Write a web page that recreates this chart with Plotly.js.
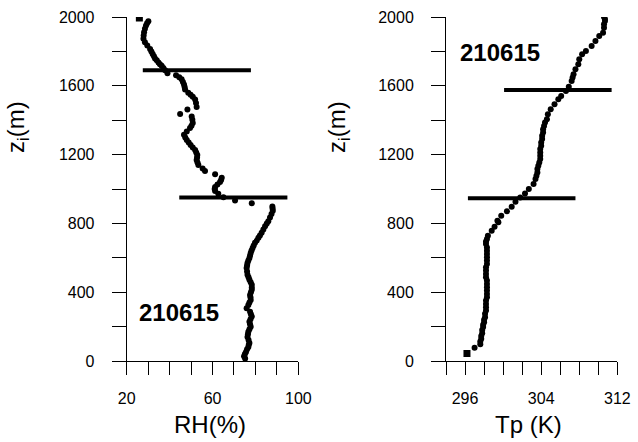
<!DOCTYPE html>
<html>
<head>
<meta charset="utf-8">
<script src="https://cdn.plot.ly/plotly-3.0.1.min.js"></script>
<style>html,body{margin:0;padding:0;background:#fff;}#chart{width:638px;height:442px;}</style>
</head>
<body>
<div id="chart"></div>
<script>
// Left panel: relative humidity profile
const rhHeight = [1975,1963,1951,1932,1912,1893,1873,1853,1834,1814,1800,1785,1772,1759,1748,1736,1726,1716,1703,1691,1673,1661,1650,1638,1622,1608,1593,1579,1559,1548,1536,1520,1500,1477,1462,1436,1422,1403,1383,1368,1354,1334,1315,1300,1285,1270,1256,1241,1227,1212,1197,1183,1168,1154,1139,1119,1105,1086,1066,1053,1041,1026,1011,1000,988,972,952,933,917,898,886,874,855,835,813,800,784,765,745,730,716,700,687,672,657,642,628,613,599,585,570,555,540,520,501,487,472,458,443,428,414,399,384,370,355,340,326,306,287,272,258,243,228,214,199,185,170,155,140,122,105,94,82,68,53,40,27,14];
const rhValue  = [30.1,29.5,29.0,28.5,28.1,27.9,27.8,28.5,29.6,30.9,31.5,32.1,32.7,33.2,34.0,34.8,35.5,36.3,37.1,37.9,39.0,43.0,44.5,45.6,46.2,46.7,47.0,47.2,48.7,49.8,50.8,51.9,52.3,52.6,48.3,44.9,50.3,50.6,50.8,50.2,49.5,48.0,46.7,47.3,48.0,48.9,49.8,50.8,51.9,52.4,52.9,52.8,52.6,53.0,53.4,55.4,56.5,61.2,64.3,64.0,63.5,62.3,61.2,61.0,61.2,62.7,65.1,70.5,78.3,87.9,88.0,88.1,87.5,86.8,86.0,85.3,84.5,83.7,82.9,82.1,81.4,80.6,79.8,79.2,78.7,78.2,77.8,77.5,77.2,76.7,76.3,76.1,75.9,76.1,76.3,76.8,77.2,77.8,78.3,78.3,78.3,77.9,77.5,77.7,77.8,77.2,76.7,75.9,77.5,77.9,78.3,77.7,77.2,77.5,77.8,77.2,76.7,76.5,76.3,76.8,77.2,76.9,76.7,76.1,75.6,75.1,74.7,75.2];
const rhTopHeight = [1994];
const rhTopValue  = [25.9];
// Right panel: potential temperature profile
const tpHeight = [2000,1988,1977,1958,1938,1909,1890,1861,1832,1803,1783,1754,1725,1696,1667,1648,1628,1594,1570,1541,1522,1493,1464,1435,1406,1387,1367,1348,1329,1310,1290,1270,1251,1232,1212,1193,1174,1154,1135,1116,1096,1077,1058,1029,1000,974,951,926,897,870,845,816,806,781,757,728,709,695,680,660,641,622,603,584,564,545,526,506,487,468,448,429,410,390,371,352,332,313,294,275,255,240,226,211,197,180,162,146,129,113,97,77];
const tpValue  = [310.6,310.7,310.7,310.6,310.6,310.5,310.1,309.7,309.3,308.7,308.3,308.0,307.9,307.6,307.4,307.3,307.2,306.9,306.6,306.1,305.8,305.4,305.0,304.7,304.6,304.4,304.3,304.2,304.2,304.1,304.1,304.0,304.0,303.9,303.9,303.9,303.9,303.8,303.7,303.6,303.6,303.5,303.4,303.2,302.7,302.3,301.8,301.3,300.9,300.4,299.8,299.4,299.5,299.1,298.8,298.4,298.3,298.2,298.2,298.3,298.3,298.3,298.3,298.3,298.3,298.2,298.2,298.2,298.2,298.3,298.3,298.3,298.3,298.3,298.3,298.2,298.2,298.2,298.2,298.1,298.1,298.0,298.0,297.9,297.9,297.8,297.8,297.7,297.7,297.6,297.6,297.0];
const tpBottomHeight = [43];
const tpBottomValue  = [296.2];
// Layer boundaries (horizontal bars)
const rhBar1 = {z: 1691, x: [27.5, 77.9]};
const rhBar2 = {z: 951,  x: [44.5, 94.9]};
const tpBar1 = {z: 1575, x: [300.1, 311.4]};
const tpBar2 = {z: 946,  x: [296.3, 307.6]};
// Labels
const caseLabel = "210615";
const rhTitle = "RH(%)";
const tpTitle = "Tp (K)";
const zTitle = "z<sub>i</sub>(m)";

const black = "#000";
const traces = [
  {x: rhValue, y: rhHeight, mode: "markers", type: "scatter", xaxis: "x", yaxis: "y",
   marker: {color: black, size: 6, symbol: "circle"}},
  {x: rhTopValue, y: rhTopHeight, mode: "markers", type: "scatter", xaxis: "x", yaxis: "y",
   marker: {color: black, size: 7, symbol: "square"}},
  {x: tpValue, y: tpHeight, mode: "markers", type: "scatter", xaxis: "x2", yaxis: "y2",
   marker: {color: black, size: 6, symbol: "circle"}},
  {x: tpBottomValue, y: tpBottomHeight, mode: "markers", type: "scatter", xaxis: "x2", yaxis: "y2",
   marker: {color: black, size: 7, symbol: "square"}}
];
[[rhBar1, "x", "y"], [rhBar2, "x", "y"], [tpBar1, "x2", "y2"], [tpBar2, "x2", "y2"]].forEach(([b, xa, ya]) => {
  traces.push({x: b.x, y: [b.z, b.z], mode: "lines", type: "scatter", xaxis: xa, yaxis: ya,
    line: {color: black, width: 4}});
});

const tickFont = {family: "Liberation Sans, Arial, sans-serif", size: 16, color: black};
function xAxis(domain, range, tick0, dtick, minorTick0, minorDtick) {
  return {domain: domain, range: range, tick0: tick0, dtick: dtick, tickmode: "linear",
    ticks: "outside", ticklen: 13, tickwidth: 1, tickcolor: black,
    minor: {tick0: minorTick0, dtick: minorDtick, ticks: "outside", ticklen: 13, tickwidth: 1, tickcolor: black},
    showline: true, linecolor: black, linewidth: 1, showgrid: false, zeroline: false,
    tickfont: tickFont, ticklabelstandoff: 10};
}
function yAxis(anchor) {
  return {domain: [0, 1], range: [0, 2000], tick0: 0, dtick: 400, tickmode: "linear", anchor: anchor,
    ticks: "outside", ticklen: 14, tickwidth: 1, tickcolor: black,
    minor: {dtick: 200, ticks: "outside", ticklen: 14, tickwidth: 1, tickcolor: black},
    showline: true, linecolor: black, linewidth: 1, showgrid: false, zeroline: false,
    tickfont: tickFont, ticklabelstandoff: 14};
}

const titleFont = {family: "Liberation Sans, Arial, sans-serif", size: 24, color: black};
const zFont = {family: "Liberation Sans, Arial, sans-serif", size: 24, color: black};
const boldFont = {family: "Liberation Sans, Arial, sans-serif", size: 24, color: black};

const layout = {
  width: 638, height: 442,
  margin: {l: 0, r: 0, t: 17, b: 81},
  paper_bgcolor: "#fff", plot_bgcolor: "#fff",
  showlegend: false,
  xaxis: xAxis([0.1986, 0.4676], [20, 100], 20, 40, 20, 10),
  yaxis: yAxis("x"),
  xaxis2: xAxis([0.6991, 0.9676], [294, 312], 296, 8, 294, 2),
  yaxis2: yAxis("x2"),
  annotations: [
    {text: zTitle, xref: "paper", yref: "paper", x: 0.0266, y: 0.680, textangle: -90,
     xanchor: "center", yanchor: "middle", showarrow: false, font: zFont},
    {text: zTitle, xref: "paper", yref: "paper", x: 0.5298, y: 0.680, textangle: -90,
     xanchor: "center", yanchor: "middle", showarrow: false, font: zFont},
    {text: rhTitle, xref: "paper", yref: "paper", x: 0.329, y: -0.186, xanchor: "center", yanchor: "middle",
     showarrow: false, font: titleFont},
    {text: tpTitle, xref: "paper", yref: "paper", x: 0.8276, y: -0.186, xanchor: "center", yanchor: "middle",
     showarrow: false, font: titleFont},
    {text: "<b>" + caseLabel + "</b>", xref: "paper", yref: "paper", x: 0.2806, y: 0.1424,
     xanchor: "center", yanchor: "middle", showarrow: false, font: boldFont},
    {text: "<b>" + caseLabel + "</b>", xref: "paper", yref: "paper", x: 0.7837, y: 0.898,
     xanchor: "center", yanchor: "middle", showarrow: false, font: boldFont}
  ]
};

Plotly.newPlot("chart", traces, layout, {staticPlot: true, displayModeBar: false});
</script>
</body>
</html>
